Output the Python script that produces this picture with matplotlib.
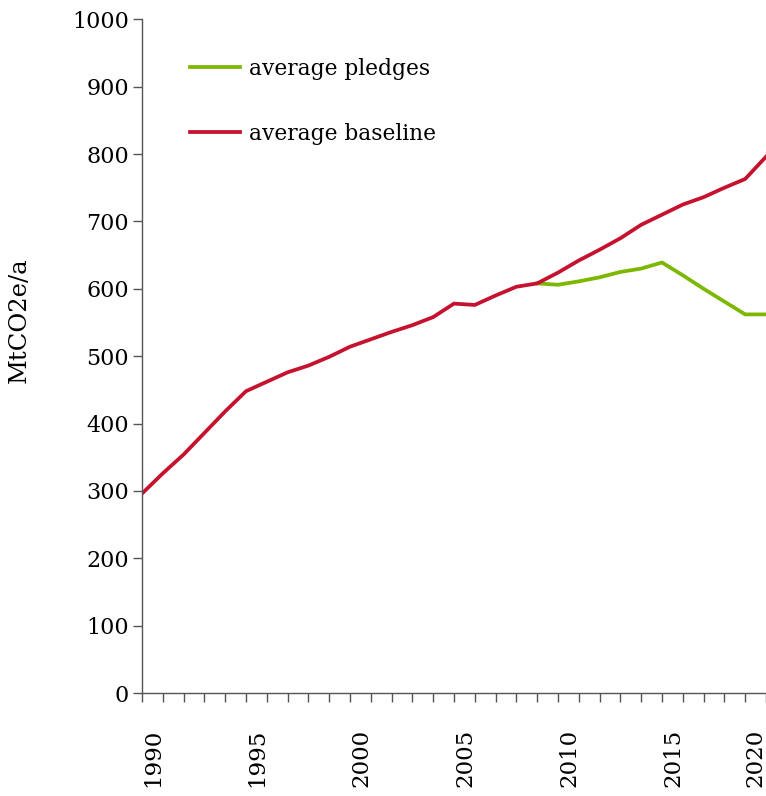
import matplotlib
matplotlib.use("Agg")
import matplotlib.pyplot as plt

years_baseline = list(range(1990, 2021))
baseline = [296, 326, 354, 386, 418, 448, 462, 476, 486, 499,
            514, 525, 536, 546, 558, 578, 576, 590, 603, 608,
            624, 642, 658, 675, 695, 710, 725, 736, 750, 763, 796]
years_pledges = list(range(2009, 2021))
pledges = [608, 606, 611, 617, 625, 630, 639, 620, 600, 581, 562, 562]
labels = ["average pledges", "average baseline"]
xtick_years = [1990, 1995, 2000, 2005, 2010, 2015, 2020]
ytick_values = list(range(0, 1001, 100))

plt.rcParams['font.family'] = ['DejaVu Serif']

W, H = 766, 796
fig = plt.figure(figsize=(W / 100, H / 100), dpi=100)
ax = fig.add_axes([142 / W, (H - 693) / H, (766 - 142) / W, (693 - 19.3) / H])

red = '#C4122F'
green = '#7DB800'
ax.plot(years_pledges, pledges, color=green, lw=2.7, label=labels[0], solid_joinstyle='miter')
ax.plot(years_baseline, baseline, color=red, lw=2.7, label=labels[1], solid_joinstyle='miter')

ax.set_xlim(1990, 2020)
ax.set_ylim(0, 1000)

for s in ['top', 'right']:
    ax.spines[s].set_visible(False)
for s in ['left', 'bottom']:
    ax.spines[s].set_color('#555555')
    ax.spines[s].set_linewidth(1.0)

ax.set_yticks(ytick_values)
ax.tick_params(axis='y', direction='out', length=6.5, width=1, color='#555555',
               pad=3.0, labelsize=16)
ax.set_xticks(list(range(1990, 2021)), minor=True)
ax.set_xticks(xtick_years)
ax.set_xticklabels([str(y) for y in xtick_years], rotation=90, ha='left', va='top')
ax.tick_params(axis='x', which='both', direction='out', length=6.5, width=1,
               color='#555555', pad=19, labelsize=16.5)
lbls = ax.get_xticklabels()
lbls[-1].set_ha('right')

fig.text(19 / W, (H - 320) / H, "MtCO2e/a", rotation=90, ha='center', va='center',
         fontsize=17.5)

leg = ax.legend(loc='upper left', bbox_to_anchor=((190 - 142) / (766 - 142), 1 - (58 - 19.3) / (693 - 19.3)),
                frameon=False, fontsize=15.7, handlelength=2.3, handletextpad=0.4,
                labelspacing=1.95, borderpad=0, borderaxespad=0)

fig.savefig("out.png", dpi=100, facecolor='white')
